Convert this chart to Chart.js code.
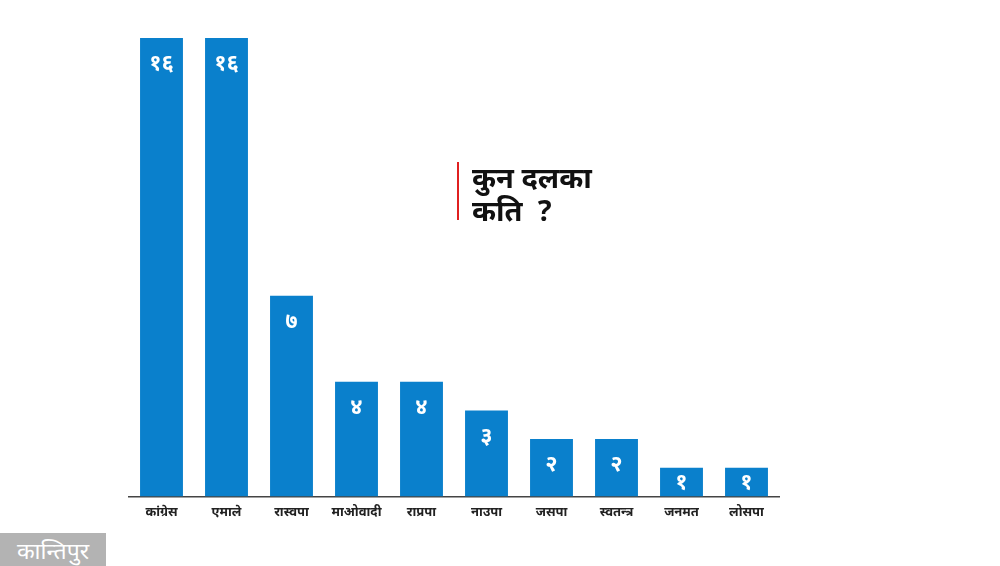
<!DOCTYPE html>
<html>
<head>
<meta charset="utf-8">
<script src="https://cdn.jsdelivr.net/npm/chart.js@4"></script>
<style>
  html, body { margin: 0; padding: 0; background: #fff; }
  #wrap { position: relative; width: 1000px; height: 566px; }
  #logo {
    position: absolute; left: 0; top: 533px; width: 106px; height: 33px;
    background: #b3b3b3; color: #fff; font: 23px "Noto Sans", "DejaVu Sans", sans-serif;
    text-align: center; line-height: 35px; overflow: hidden;
  }
</style>
</head>
<body>
<div id="wrap">
  <canvas id="seatChart" width="1000" height="566"></canvas>
  <div id="logo">कान्तिपुर</div>
</div>
<script>
const parties = ["कांग्रेस", "एमाले", "रास्वपा", "माओवादी", "राप्रपा", "नाउपा", "जसपा", "स्वतन्त्र", "जनमत", "लोसपा"];
const seats = [16, 16, 7, 4, 4, 3, 2, 2, 1, 1];
const seatLabels = ["१६", "१६", "७", "४", "४", "३", "२", "२", "१", "१"];
const titleLines = ["कुन दलका", "कति  ?"];

const devFont = '"Noto Sans", "DejaVu Sans", "Liberation Sans", sans-serif';

// white numbers inside each bar + the side title
const overlay = {
  id: "overlay",
  afterDatasetsDraw(chart) {
    const ctx = chart.ctx;
    const meta = chart.getDatasetMeta(0);
    ctx.save();
    ctx.fillStyle = "#fff";
    ctx.font = "bold 22px " + devFont;
    ctx.textAlign = "center";
    ctx.textBaseline = "middle";
    meta.data.forEach((bar, i) => {
      const y = Math.min(bar.y + 26, (bar.y + bar.base) / 2 + 1);
      ctx.fillText(seatLabels[i], bar.x, y);
    });

    ctx.strokeStyle = "#e02020";
    ctx.lineWidth = 2;
    ctx.beginPath();
    ctx.moveTo(458, 162);
    ctx.lineTo(458, 220);
    ctx.stroke();

    ctx.fillStyle = "#111";
    ctx.font = "bold 29px " + devFont;
    ctx.textAlign = "left";
    ctx.fillText(titleLines[0], 472, 180);
    ctx.fillText(titleLines[1], 472, 213);
    ctx.restore();
  }
};

const ctx = document.getElementById("seatChart").getContext("2d");

new Chart(ctx, {
  type: "bar",
  data: {
    labels: parties,
    datasets: [{
      data: seats,
      backgroundColor: "#0a80cc",
      barPercentage: 0.66,
      categoryPercentage: 1
    }]
  },
  options: {
    responsive: false,
    animation: false,
    layout: { padding: { left: 129, right: 221, top: 38, bottom: 46 } },
    plugins: {
      legend: { display: false },
      tooltip: { enabled: false }
    },
    scales: {
      x: {
        grid: { display: false },
        border: { color: "#444", width: 1.5 },
        ticks: {
          color: "#222",
          font: { family: devFont, size: 13, weight: "bold" },
          padding: 0,
          maxRotation: 0
        }
      },
      y: {
        display: false,
        min: 0,
        max: 16
      }
    }
  },
  plugins: [overlay]
});
</script>
</body>
</html>
